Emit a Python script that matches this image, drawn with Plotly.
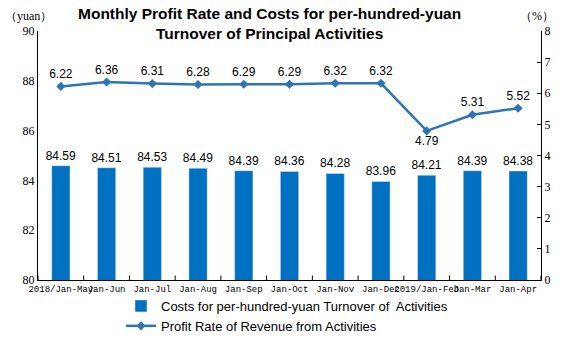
import plotly.graph_objects as go

categories = ["2018/Jan-May", "Jan-Jun", "Jan-Jul", "Jan-Aug", "Jan-Sep", "Jan-Oct",
              "Jan-Nov", "Jan-Dec", "2019/Jan-Feb", "Jan-Mar", "Jan-Apr"]
costs = [84.59, 84.51, 84.53, 84.49, 84.39, 84.36, 84.28, 83.96, 84.21, 84.39, 84.38]
profit_rate = [6.22, 6.36, 6.31, 6.28, 6.29, 6.29, 6.32, 6.32, 4.79, 5.31, 5.52]

bar_name = "Costs for per-hundred-yuan Turnover of  Activities"
line_name = "Profit Rate of Revenue from Activities"

x_idx = list(range(len(categories)))
tick_font = dict(family="Liberation Serif, DejaVu Serif, serif", size=12, color="#000")
xtick_font = dict(family="Liberation Mono, DejaVu Sans Mono, monospace", size=9, color="#000")
label_font = dict(family="Liberation Sans, Arial, sans-serif", size=12, color="#000")

H, T, B = 341, 31, 0
paper_h = H - T - B
plot_bottom_px = 280


def py(px_from_top):
    return (H - B - px_from_top) / paper_h


fig = go.Figure()
fig.add_trace(go.Bar(
    x=x_idx, y=costs, name=bar_name, marker_color="#0070C0", width=0.4,
    text=[f"{v:.2f}" for v in costs], textposition="outside", textfont=label_font,
    constraintext="none", cliponaxis=False, yaxis="y"))
fig.add_trace(go.Scatter(
    x=x_idx, y=profit_rate, name=line_name, mode="lines+markers+text",
    line=dict(color="#2E75B6", width=2.5), marker=dict(symbol="diamond", size=7, color="#2E75B6"),
    text=[f"{v:.2f}" for v in profit_rate],
    textposition=["bottom center" if i == 8 else "top center" for i in x_idx],
    textfont=label_font, cliponaxis=False, yaxis="y2"))

fig.update_layout(
    width=564, height=H, margin=dict(l=38, r=23, t=T, b=B),
    paper_bgcolor="white", plot_bgcolor="white",
    xaxis=dict(tickmode="array", tickvals=x_idx, ticktext=categories, tickangle=0,
               range=[-0.5, len(categories) - 0.5], showline=True, linecolor="#000", linewidth=1,
               ticks="", showgrid=False, tickfont=xtick_font, zeroline=False, automargin=False),
    yaxis=dict(range=[80, 90], dtick=2, showline=True, linecolor="#000", linewidth=1,
               domain=[py(plot_bottom_px), 1],
               showgrid=False, zeroline=False, tickfont=tick_font, ticks="", automargin=False),
    yaxis2=dict(range=[0, 8], dtick=1, overlaying="y", side="right", showline=True,
                linecolor="#000", linewidth=1, ticks="inside", ticklen=4, tickcolor="#000",
                showgrid=False, zeroline=False, tickfont=tick_font, automargin=False),
    legend=dict(orientation="v", x=0.165, xanchor="left",
                y=0.0, yanchor="bottom",
                font=dict(family="Liberation Sans, Arial, sans-serif", size=13, color="#000"),
                tracegroupgap=0, itemwidth=30, bgcolor="rgba(0,0,0,0)"),
    bargap=0.6, showlegend=True,
)

# boundaries between categories as inward ticks on the x axis
for i in range(len(categories) + 1):
    fig.add_shape(type="line", xref="x", yref="y domain", x0=i - 0.5, x1=i - 0.5, y0=0, y1=0.018,
                  line=dict(color="#000", width=1))

fig.add_annotation(text="<b>Monthly Profit Rate and Costs for per-hundred-yuan<br>Turnover of Principal Activities</b>",
                   xref="paper", yref="paper", x=0.461, y=py(44), xanchor="center", yanchor="bottom",
                   showarrow=False, align="center",
                   font=dict(family="Liberation Sans, Arial, sans-serif", size=15.5, color="#000"))
fig.add_annotation(text="（yuan）", xref="paper", yref="paper", x=-0.07, y=py(25), showarrow=False,
                   xanchor="left", yanchor="bottom", font=tick_font)
fig.add_annotation(text="（%）", xref="paper", yref="paper", x=1.03, y=py(25), showarrow=False,
                   xanchor="right", yanchor="bottom", font=tick_font)

fig.write_html("out.html")
